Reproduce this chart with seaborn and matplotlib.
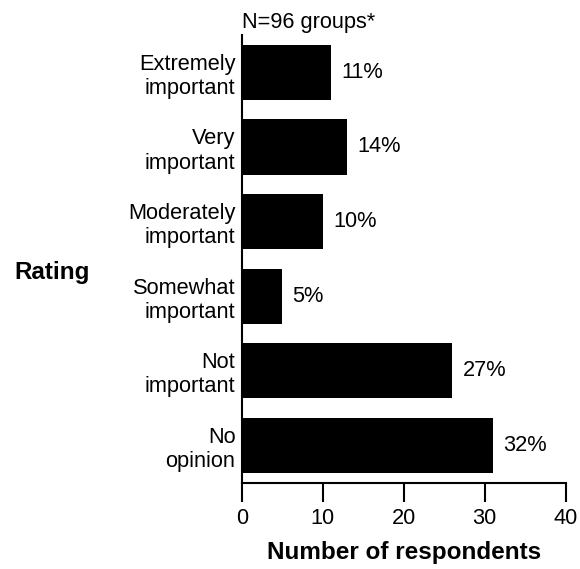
import matplotlib
matplotlib.use("Agg")
import matplotlib.pyplot as plt
import seaborn as sns
import pandas as pd

categories = ["Extremely\nimportant", "Very\nimportant", "Moderately\nimportant",
              "Somewhat\nimportant", "Not\nimportant", "No\nopinion"]
counts = [11, 13, 10, 5, 26, 31]
pct_labels = ["11%", "14%", "10%", "5%", "27%", "32%"]
x_ticks = [0, 10, 20, 30, 40]

sns.set_theme(style="ticks")
plt.rcParams["font.family"] = ["Liberation Sans", "DejaVu Sans"]

df = pd.DataFrame({"Rating": categories, "Count": counts})

fig = plt.figure(figsize=(5.8, 5.69), dpi=100)
ax = fig.add_axes([241.7 / 580, 1 - 482.7 / 569, (565.7 - 241.7) / 580, (482.7 - 35) / 569])

sns.barplot(data=df, y="Rating", x="Count", orient="h", color="black",
            width=0.74, saturation=1, ax=ax)

for patch in ax.patches:
    patch.set_edgecolor("none")

for i, (v, lab) in enumerate(zip(counts, pct_labels)):
    ax.annotate(lab, xy=(v, i), xytext=(7.5, 0), textcoords="offset points",
                ha="left", va="center", fontsize=15.7, color="black")

ax.set_xlim(0, 40)
ax.set_ylim(5.5, -0.5)
ax.set_xticks(x_ticks)
ax.set_xticklabels([str(t) for t in x_ticks])

sns.despine(ax=ax, top=True, right=True)
for s in ["left", "bottom"]:
    ax.spines[s].set_linewidth(1.5)
    ax.spines[s].set_color("black")

ax.tick_params(axis="x", length=14, width=1.5, pad=4.5, labelsize=15.7, colors="black", direction="out")
ax.tick_params(axis="y", length=0, pad=4.5, labelsize=15.7, colors="black")
for t in ax.get_yticklabels():
    t.set_linespacing(1.2)
    t.set_ha("right")

ax.set_ylabel("")
ax.set_xlabel("Number of respondents", fontsize=17.5, fontweight="bold", labelpad=8, color="black")

fig.text(14 / 580, 1 - 272 / 569, "Rating", fontsize=17.5, fontweight="bold",
         ha="left", va="center", color="black")
fig.text(242 / 580, 1 - 28.3 / 569, "N=96 groups*", fontsize=15.7,
         ha="left", va="baseline", color="black")

fig.savefig("out.png", dpi=100)
